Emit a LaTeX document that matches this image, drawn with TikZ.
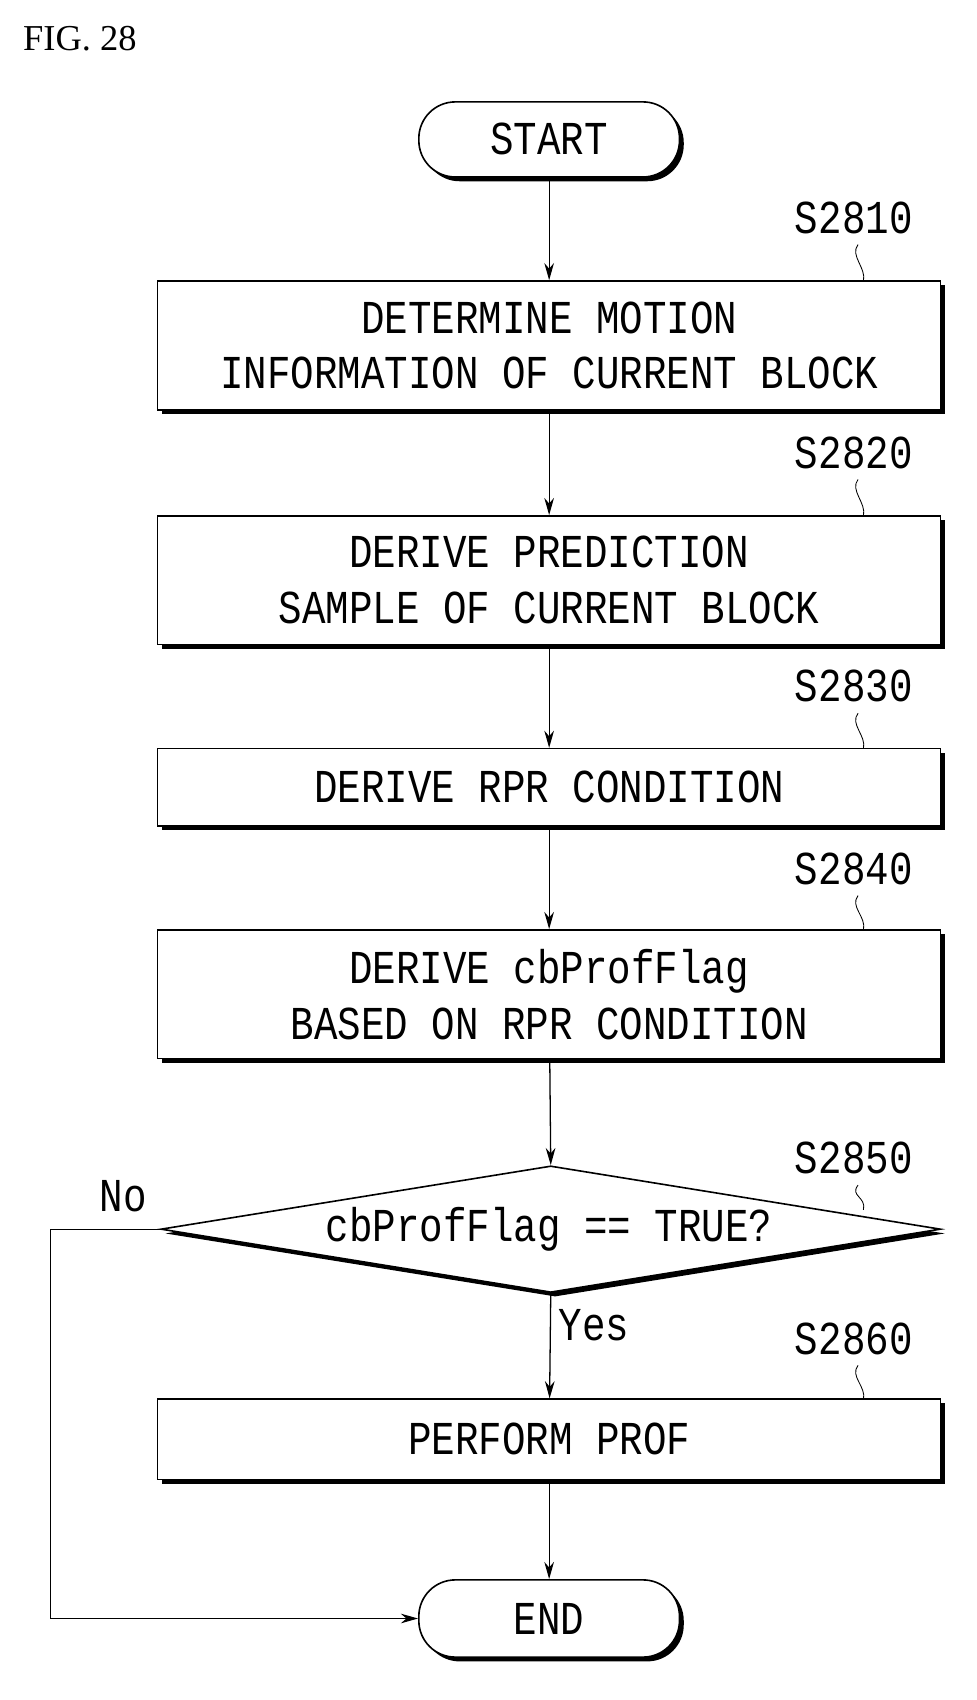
\documentclass[tikz,border=0pt]{standalone}
\usepackage{fontspec}
\setmainfont{Liberation Serif}
\newfontfamily\flow[FakeStretch=0.83]{Liberation Mono}
\usetikzlibrary{shapes.geometric,arrows.meta,shadows}
\begin{document}
\begin{tikzpicture}[x=1pt,y=-1pt,
  every node/.style={font=\flow\fontsize{44}{52}\selectfont},
  shad/.style={drop shadow={shadow xshift=4pt,shadow yshift=-4pt,fill=black,opacity=1}},
  box/.style={draw,line width=1.5pt,fill=white,shad,minimum width=730pt,align=center,inner sep=0pt},
  term/.style={draw,line width=1.5pt,fill=white,shad,rounded corners=34pt,minimum width=243pt,inner sep=0pt},
  arr/.style={line width=1.2pt,-{Stealth[length=16pt,width=9pt]}},
  lbl/.style={},
  sq/.style={line width=0.8pt}]
\useasboundingbox (0,0) rectangle (910,1585);
\node[font=\fontsize{34}{40}\selectfont\rmfamily, anchor=west] (fig) at (18,36) {FIG. 28};
\node[term,minimum height=70pt] (start) at (512,130) {START};
\node[box,minimum height=120pt] (b1) at (512,322) {DETERMINE MOTION\\INFORMATION OF CURRENT BLOCK};
\node[box,minimum height=120pt] (b2) at (512,541) {DERIVE PREDICTION\\SAMPLE OF CURRENT BLOCK};
\node[box,minimum height=72pt] (b3) at (512,734) {DERIVE RPR CONDITION};
\node[box,minimum height=120pt] (b4) at (512,927) {DERIVE cbProfFlag\\BASED ON RPR CONDITION};
\node[diamond,draw,line width=1.5pt,fill=white,shad,minimum width=727pt,minimum height=118pt,aspect=6.2,inner sep=0pt] (d) at (513.5,1146) {};
\node (dt) at (512,1146) {cbProfFlag == TRUE?};
\node[box,minimum height=75pt] (b6) at (512,1342) {PERFORM PROF};
\node[term,minimum height=72pt] (end) at (512,1509) {END};
\foreach \n/\t/\y in {l1/S2810/203,l2/S2820/422,l3/S2830/640,l4/S2840/810,l5/S2850/1080,l6/S2860/1248}{
  \node (\n) at (796,\y) {\t};}
\foreach \n/\yt/\yb in {l1/228/262,l2/447/481,l3/665/698,l4/835/867,l5/1105/1128,l6/1273/1305}{
  \draw[sq] (800,\yt) .. controls (792,{\yt+10}) and (808,{\yb-12}) .. (805,\yb);}
\draw[arr] (start) -- (b1);
\draw[arr] (b1) -- (b2);
\draw[arr] (b2) -- (b3);
\draw[arr] (b3) -- (b4);
\draw[arr] (b4) -- (d.north);
\draw[arr] (d.south) -- (b6) node[pos=0.3,right=4pt] (yes) {Yes};
\draw[arr] (b6) -- (end);
\draw[arr] (d.west) -- (47,1146) |- (end.west);
\node (no) at (115,1115) {No};
\end{tikzpicture}
\end{document}
